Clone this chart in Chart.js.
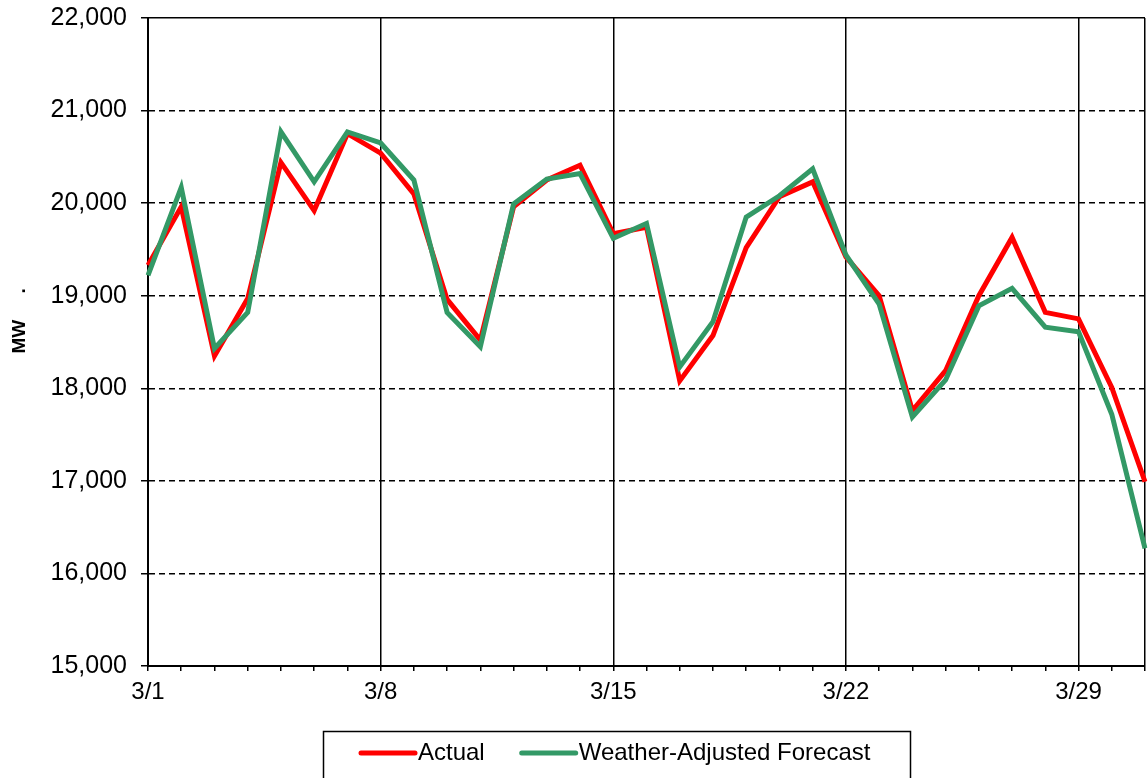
<!DOCTYPE html>
<html>
<head>
<meta charset="utf-8">
<script src="https://cdn.jsdelivr.net/npm/chart.js@4.4.1/dist/chart.umd.min.js"></script>
<style>
    body { margin: 0; background: #fff; }
    canvas { display: block; }
</style>
</head>
<body>
<canvas id="chart" width="1148" height="778"></canvas>
<script>
// daily dates, March
const fechas = ["3/1","3/2","3/3","3/4","3/5","3/6","3/7","3/8","3/9","3/10","3/11","3/12","3/13","3/14","3/15","3/16",
    "3/17","3/18","3/19","3/20","3/21","3/22","3/23","3/24","3/25","3/26","3/27","3/28","3/29","3/30","3/31"];

const actual = [19330, 19960, 18350, 18970, 20440, 19920, 20750, 20540, 20100, 18960, 18520, 19960, 20250, 20410, 19670, 19740,
    18080, 18570, 19520, 20070, 20230, 19420, 19000, 17760, 18190, 19000, 19630, 18820, 18750, 18010, 16990];

const forecast = [19220, 20170, 18430, 18820, 20770, 20230, 20770, 20650, 20250, 18820, 18450, 19990, 20260, 20320, 19620, 19780,
    18230, 18720, 19850, 20080, 20370, 19440, 18910, 17690, 18090, 18890, 19080, 18660, 18610, 17720, 16270];

const yMin = 15000;
const yMax = 22000;
const yPaso = 1000;

const FONT = "'Liberation Sans', Arial, sans-serif";

// legend in a box below the plot, like the Excel one
const cajaLeyenda = {
    id: 'cajaLeyenda',
    afterDraw(chart) {
        const ctx = chart.ctx;
        const y = 753;
        ctx.save();
        ctx.strokeStyle = '#000';
        ctx.lineWidth = 1.5;
        ctx.strokeRect(323.5, 731.5, 587, 60);

        ctx.font = `24px ${FONT}`;
        ctx.textBaseline = 'middle';
        ctx.fillStyle = '#000';
        ctx.lineCap = 'round';
        ctx.lineWidth = 5;

        let x = 361;
        [0, 1].forEach(i => {
            const ds = chart.data.datasets[i];
            ctx.strokeStyle = ds.borderColor;
            ctx.beginPath();
            ctx.moveTo(x, y);
            ctx.lineTo(x + 54, y);
            ctx.stroke();
            ctx.fillText(ds.label, x + 57, y);
            x += 57 + ctx.measureText(ds.label).width + 37;
        });
        ctx.restore();
    }
};

new Chart(document.getElementById('chart'), {
    type: 'line',
    data: {
        labels: fechas,
        datasets: [
            {
                label: 'Actual',
                data: actual,
                borderColor: '#ff0000',
                backgroundColor: '#ff0000',
                borderWidth: 5,
                pointRadius: 0,
                tension: 0,
                order: 1
            },
            {
                label: 'Weather-Adjusted Forecast',
                data: forecast,
                borderColor: '#339966',
                backgroundColor: '#339966',
                borderWidth: 5,
                pointRadius: 0,
                tension: 0,
                order: 0
            }
        ]
    },
    options: {
        responsive: false,
        animation: false,
        layout: { padding: { top: 18, right: 3, bottom: 72, left: 0 } },
        plugins: {
            legend: { display: false },
            tooltip: { enabled: false }
        },
        scales: {
            x: {
                type: 'category',
                offset: false,
                afterFit(scale) {
                    scale.height = 40;
                    scale.paddingLeft = 0;
                    scale.paddingRight = 0;
                },
                grid: {
                    color: c => (c.index % 7 === 0 || c.index === fechas.length - 1) ? '#000' : 'transparent',
                    lineWidth: 1.5,
                    tickColor: '#000',
                    tickLength: 5,
                    drawTicks: true
                },
                border: { display: true, color: '#000', width: 2 },
                ticks: {
                    autoSkip: false,
                    maxRotation: 0,
                    padding: 7,
                    color: '#000',
                    font: { family: FONT, size: 24 },
                    callback: (v, i) => i % 7 === 0 ? fechas[i] : ''
                }
            },
            y: {
                min: yMin,
                max: yMax,
                afterFit(scale) {
                    scale.width = 148;
                    scale.paddingTop = 0;
                    scale.paddingBottom = 0;
                },
                grid: {
                    color: '#000',
                    lineWidth: 1.5,
                    tickColor: '#000',
                    tickLength: 7
                },
                border: {
                    display: true,
                    color: '#000',
                    width: 2,
                    dash: c => (c.tick && c.tick.value === yMax) ? [] : [6, 4]
                },
                ticks: {
                    stepSize: yPaso,
                    padding: 14,
                    color: '#000',
                    font: { family: FONT, size: 25 },
                    callback: v => v.toLocaleString('en-US')
                },
                title: {
                    display: true,
                    text: '        MW     .',
                    color: '#000',
                    font: { family: FONT, size: 19, weight: 'bold' },
                    padding: { top: 8, bottom: 0 }
                }
            }
        }
    },
    plugins: [cajaLeyenda]
});
</script>
</body>
</html>
